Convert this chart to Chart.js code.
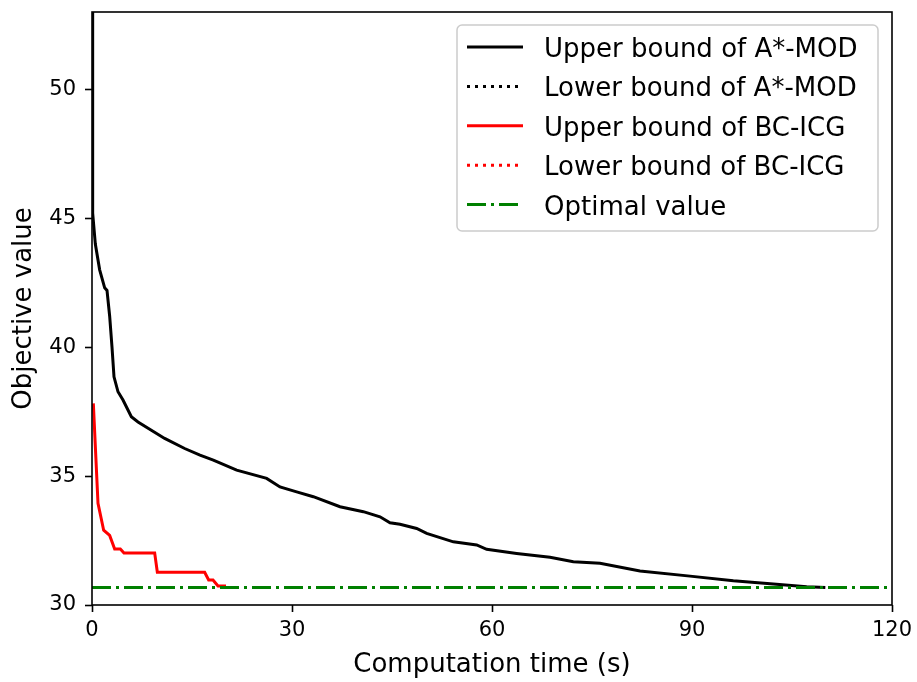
<!DOCTYPE html>
<html>
<head>
<meta charset="utf-8">
<script src="https://cdn.jsdelivr.net/npm/chart.js@4.4.1/dist/chart.umd.min.js"></script>
<style>
  html, body { margin: 0; padding: 0; background: #fff; }
</style>
</head>
<body>
<canvas id="canvas" width="917" height="682"></canvas>
<script>
// values
var optimalValue = 30.68;

var astarUpperT = [0, 0.1, 0.5, 1.15, 1.9, 2.25, 2.65, 3.0, 3.3, 3.9, 4.65, 5.9, 6.9, 8.9, 10.9, 13.9,
  16.2, 18.2, 21.7, 26.2, 28.2, 30.7, 33.2, 37.2, 40.7, 43.2, 44.7, 46.2, 48.7, 50.2, 54.2, 57.7,
  59.2, 63.7, 68.7, 72.2, 76.2, 82.2, 89.7, 96.2, 102.2, 107.2, 110];
var astarUpperV = [53.5, 45.2, 44.0, 43.0, 42.3, 42.2, 41.2, 40.0, 38.85, 38.27, 37.95, 37.3, 37.1, 36.78, 36.46, 36.07,
  35.81, 35.62, 35.23, 34.91, 34.58, 34.39, 34.2, 33.81, 33.62, 33.42, 33.19, 33.13, 32.97, 32.78, 32.45, 32.33,
  32.16, 32.0, 31.85, 31.68, 31.62, 31.32, 31.12, 30.94, 30.81, 30.71, 30.68];

var astarLowerT = [0, 110];
var astarLowerV = [optimalValue, optimalValue];

var bcUpperT = [0.2, 0.9, 1.75, 2.65, 3.4, 4.25, 4.8, 9.4, 9.8, 16.9, 17.5, 18.15, 18.9, 20.1];
var bcUpperV = [37.82, 33.94, 32.9, 32.7, 32.17, 32.17, 32.02, 32.02, 31.27, 31.27, 30.97, 30.97, 30.74, 30.74];

var bcLowerT = [0, 20.1];
var bcLowerV = [optimalValue, optimalValue];

var optimalT = [0, 120];
var optimalV = [optimalValue, optimalValue];

var xTicks = [0, 30, 60, 90, 120];
var yTicks = [30, 35, 40, 45, 50];

function pts(t, v) {
    return t.map(function (x, i) { return { x: x, y: v[i] }; });
}

var DOT = [3, 5];
var DASHDOT = [19, 5, 3, 5];

// frame round the plot, like matplotlib spines
var framePlugin = {
    id: 'frame',
    afterDatasetsDraw: function (chart) {
        var a = chart.chartArea, ctx = chart.ctx;
        ctx.save();
        ctx.strokeStyle = '#000';
        ctx.lineWidth = 1.6;
        ctx.strokeRect(a.left, a.top, a.right - a.left, a.bottom - a.top);
        ctx.restore();
    }
};

// legend box in the upper right corner of the plot
var legendPlugin = {
    id: 'boxLegend',
    afterDraw: function (chart) {
        var a = chart.chartArea, ctx = chart.ctx;
        var sets = chart.data.datasets;
        var w = 421, rowH = 39.4, h = 206;
        var x0 = a.right - 14 - w, y0 = a.top + 13;
        ctx.save();
        ctx.beginPath();
        ctx.roundRect(x0, y0, w, h, 5);
        ctx.fillStyle = 'rgba(255,255,255,0.8)';
        ctx.fill();
        ctx.lineWidth = 1.5;
        ctx.strokeStyle = '#cccccc';
        ctx.stroke();
        ctx.font = '26px "DejaVu Sans"';
        ctx.textBaseline = 'alphabetic';
        ctx.textAlign = 'left';
        sets.forEach(function (ds, i) {
            var cy = y0 + 22 + i * rowH;
            ctx.beginPath();
            ctx.setLineDash(ds.borderDash || []);
            ctx.lineCap = 'butt';
            ctx.lineWidth = 3;
            ctx.strokeStyle = ds.borderColor;
            ctx.moveTo(x0 + 10, cy);
            ctx.lineTo(x0 + 66, cy);
            ctx.stroke();
            ctx.setLineDash([]);
            ctx.fillStyle = '#000';
            ctx.fillText(ds.label, x0 + 87, cy + 10);
        });
        ctx.restore();
    }
};

Chart.defaults.font.family = '"DejaVu Sans"';
Chart.defaults.color = '#000';

var ctx = document.getElementById('canvas');
var myChart = new Chart(ctx, {
    type: 'line',
    data: {
        datasets: [{
            label: 'Upper bound of A*-MOD',
            data: pts(astarUpperT, astarUpperV),
            borderColor: '#000000',
            order: 5
        }, {
            label: 'Lower bound of A*-MOD',
            data: pts(astarLowerT, astarLowerV),
            borderColor: '#000000',
            borderDash: DOT,
            order: 4
        }, {
            label: 'Upper bound of BC-ICG',
            data: pts(bcUpperT, bcUpperV),
            borderColor: '#ff0000',
            order: 3
        }, {
            label: 'Lower bound of BC-ICG',
            data: pts(bcLowerT, bcLowerV),
            borderColor: '#ff0000',
            borderDash: DOT,
            order: 2
        }, {
            label: 'Optimal value',
            data: pts(optimalT, optimalV),
            borderColor: '#008000',
            borderDash: DASHDOT,
            order: 1
        }]
    },
    options: {
        responsive: false,
        devicePixelRatio: 1,
        animation: false,
        layout: { padding: { left: 0, top: 12, right: 25, bottom: 0 } },
        elements: {
            line: { borderWidth: 3, tension: 0, fill: false, borderCapStyle: 'butt' },
            point: { radius: 0, hoverRadius: 0 }
        },
        plugins: {
            legend: { display: false },
            tooltip: { enabled: false }
        },
        scales: {
            x: {
                type: 'linear',
                min: 0,
                max: 120,
                afterBuildTicks: function (s) { s.ticks = xTicks.map(function (v) { return { value: v }; }); },
                afterFit: function (s) { s.height = 77; s.paddingLeft = 0; s.paddingRight = 0; },
                ticks: { font: { size: 21 }, padding: 6, autoSkip: false, maxRotation: 0 },
                grid: { drawOnChartArea: false, drawTicks: true, tickLength: 7, tickColor: '#000', tickWidth: 1.6 },
                border: { display: false },
                title: { display: true, text: 'Computation time (s)', font: { size: 26 }, padding: { top: 0, bottom: 1 } }
            },
            y: {
                type: 'linear',
                min: 30,
                max: 53,
                afterBuildTicks: function (s) { s.ticks = yTicks.map(function (v) { return { value: v }; }); },
                afterFit: function (s) { s.width = 92; s.paddingTop = 0; s.paddingBottom = 0; },
                ticks: { font: { size: 21 }, padding: 9, autoSkip: false },
                grid: { drawOnChartArea: false, drawTicks: true, tickLength: 7, tickColor: '#000', tickWidth: 1.6 },
                border: { display: false },
                title: { display: true, text: 'Objective value', font: { size: 26 }, padding: { top: 9, bottom: 0 } }
            }
        }
    },
    plugins: [framePlugin, legendPlugin]
});
</script>
</body>
</html>
